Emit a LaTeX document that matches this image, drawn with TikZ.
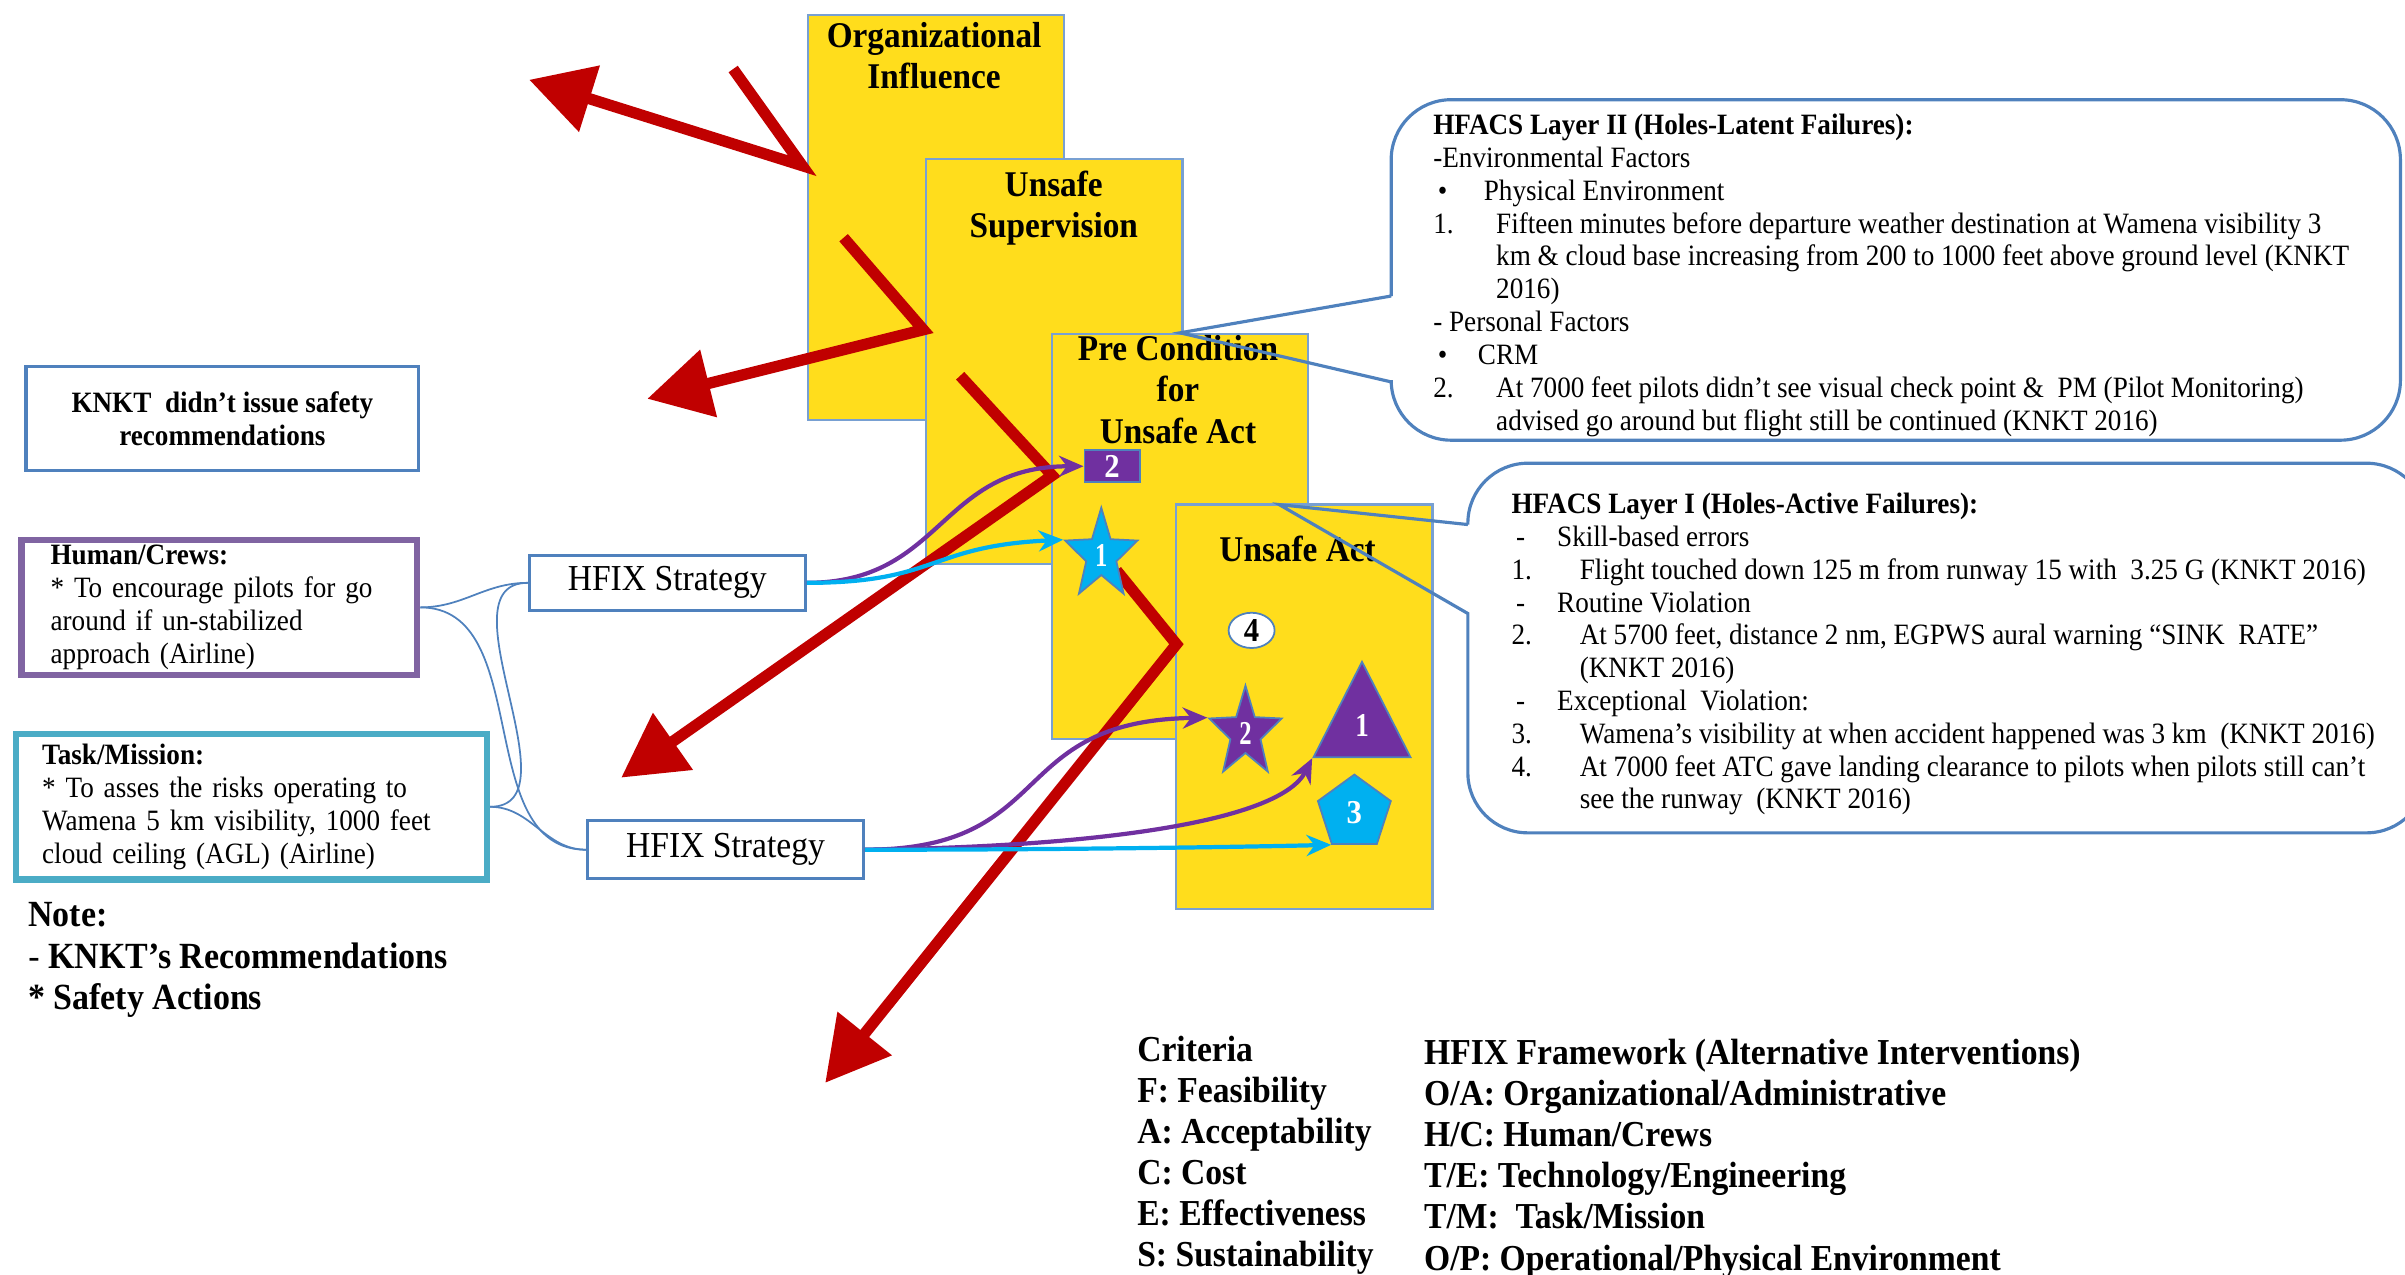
\documentclass[tikz,border=0pt]{standalone}
\usepackage{fontspec}
\setmainfont{Liberation Serif}[FakeStretch=0.92]
\usetikzlibrary{arrows.meta,shapes.geometric}
\definecolor{cheese}{RGB}{255,221,28}
\definecolor{cheeseedge}{RGB}{120,160,210}
\definecolor{trail}{RGB}{192,0,0}
\definecolor{hfpurple}{RGB}{112,48,160}
\definecolor{hfcyan}{RGB}{0,176,240}
\definecolor{boxblue}{RGB}{79,129,189}
\definecolor{crewpurple}{RGB}{128,100,162}
\definecolor{taskteal}{RGB}{75,172,198}
\newlength{\pix}
\setlength{\pix}{0.1534mm}

\begin{document}
\begin{tikzpicture}[x=\pix,y=-\pix]
\tikzstyle{every node}+=[inner sep=0pt]
\tikzstyle{layer}=[draw=cheeseedge,fill=cheese,line width=0.7pt,minimum width=167\pix,minimum height=264\pix,anchor=north west]
\tikzstyle{title}=[anchor=north,align=center,font=\fontsize{10.3}{11.8}\selectfont\bfseries]
\tikzstyle{trail}=[draw=trail,line width=3.2pt,line join=miter,-{Triangle[length=18pt,width=19pt]}]
\tikzstyle{hole}=[draw=boxblue,line width=0.5pt,text=white,font=\fontsize{9.5}{9.5}\selectfont\bfseries]
\tikzstyle{starhole}=[hole,star,star points=5,star point ratio=2.4,minimum size=62\pix,transform shape]
\tikzstyle{hfix}=[draw=boxblue,line width=0.8pt,fill=white,minimum width=180\pix,minimum height=36\pix,font=\fontsize{10.4}{12}\selectfont]
\tikzstyle{fixp}=[draw=hfpurple,line width=1.2pt,-{Stealth[length=7pt,width=6pt]}]
\tikzstyle{fixc}=[draw=hfcyan,line width=1.2pt,-{Stealth[length=7pt,width=6pt]}]
\tikzstyle{link}=[draw=boxblue,line width=0.5pt]
\tikzstyle{callout}=[draw=boxblue,line width=0.9pt]
\tikzstyle{small}=[align=left,font=\fontsize{8.4}{9.34}\selectfont]
\tikzstyle{key}=[anchor=north west,align=left,font=\fontsize{10.4}{11.7}\selectfont\bfseries]
\useasboundingbox (0,0) rectangle (1568,831);

\node[layer] (oi) at (526,9) {};
\node[title] (oit) at (609,14) {Organizational\\Influence};
\node[layer] (us) at (603,103) {};
\node[title] (ust) at (687,111) {Unsafe\\Supervision};
\node[layer] (pc) at (685,217) {};
\node[title] (pct) at (768,218) {Pre Condition\\for\\Unsafe Act};
\node[layer] (ua) at (766,328) {};
\node[title] (uat) at (846,349) {Unsafe Act};

\coordinate (a0) at (478,45); \coordinate (a1) at (523,108); \coordinate (a2) at (345,52);
\coordinate (b0) at (550,155); \coordinate (b1) at (602,215); \coordinate (b2) at (422,260);
\coordinate (c0) at (626,245); \coordinate (c1) at (686,310); \coordinate (c2) at (405,507);
\coordinate (d0) at (728,372); \coordinate (d1) at (767,420); \coordinate (d2) at (538,706);
\draw[trail] (a0) -- (a1) -- (a2);
\draw[trail] (b0) -- (b1) -- (b2);
\draw[trail] (c0) -- (c1) -- (c2);
\draw[trail] (d0) -- (d1) -- (d2);

\node[hole,fill=hfpurple,minimum width=36\pix,minimum height=21\pix] (sq2) at (725,304) {2};
\begin{scope}[shift={(718,362)},xscale=0.8]
\node[starhole,fill=hfcyan] (st1) at (0,0) {1};
\end{scope}
\node[hole,fill=white,text=black,ellipse,minimum width=30\pix,minimum height=23\pix] (el4) at (816,411) {4};
\begin{scope}[shift={(812,478)},xscale=0.8]
\node[starhole,fill=hfpurple] (st2) at (0,0) {2};
\end{scope}
\begin{scope}[shift={(888,473)},xscale=0.88]
\node[hole,fill=hfpurple,regular polygon,regular polygon sides=3,minimum size=83\pix,transform shape] (tr1) at (0,0) {1};
\end{scope}
\node[hole,fill=hfcyan,regular polygon,regular polygon sides=5,minimum size=50\pix] (pg3) at (883,530) {3};

\node[hfix] (hs1) at (435,380) {HFIX Strategy};
\node[hfix,minimum height=38\pix] (hs2) at (473,554) {HFIX Strategy};
\draw[fixp] (hs1.east) .. controls (615,380) and (612,304) .. (sq2.west);
\draw[fixc] (hs1.east) .. controls (612,380) and (605,356) .. (st1.outer point 2);
\draw[fixp] (hs2.east) .. controls (690,554) and (655,470) .. (st2.outer point 2);
\draw[fixp] (hs2.east) .. controls (720,552) and (835,535) .. (tr1.corner 2);
\draw[fixc] (hs2.east) .. controls (700,554) and (820,552) .. (pg3.corner 3);

\node[draw=boxblue,line width=0.9pt,minimum width=256\pix,minimum height=68\pix,align=center,font=\fontsize{8.4}{9.6}\selectfont\bfseries] (knkt) at (145,273) {KNKT\ \ didn’t issue safety\\recommendations};
\node[small,draw=crewpurple,line width=1.8pt,text width=220\pix,inner xsep=19\pix,minimum height=88\pix] (hc) at (143,396) {\textbf{Human/Crews:}\\{}* To encourage pilots for go\\around if un-stabilized\\approach (Airline)};
\node[small,draw=taskteal,line width=1.8pt,text width=273\pix,inner xsep=17\pix,minimum height=95\pix] (tm) at (164,526) {\textbf{Task/Mission:}\\{}* To asses the risks operating to\\Wamena 5 km visibility, 1000 feet\\cloud ceiling (AGL) (Airline)};
\draw[link] (hc.east) to[out=0,in=180] (hs1.west);
\draw[link] (hc.east) to[out=0,in=180] (hs2.west);
\draw[link] (tm.east) to[out=0,in=180] (hs1.west);
\draw[link] (tm.east) to[out=0,in=180] (hs2.west);

\node[anchor=north west,align=left,font=\fontsize{10.5}{11.8}\selectfont] (note) at (18,588) {\textbf{Note:}\\- \textbf{KNKT’s Recommendations}\\{}\textbf{* Safety Actions}};

\coordinate (tip2) at (pc.north);
\draw[callout] (907,193) -- (tip2) -- (907,249) [rounded corners=6mm] -- (907,287) -- (1565,287) -- (1565,65) -- (907,65) -- (907,193);
\node[small,anchor=north west] (latent) at (934,74) {\textbf{HFACS Layer II (Holes-Latent Failures):}\\
-Environmental Factors\\
\makebox[14.4pt][l]{\hspace{1.3pt}•}Physical Environment\\
\makebox[17.9pt][l]{1.}Fifteen minutes before departure weather destination at Wamena visibility 3\\
\hspace*{17.9pt}km \& cloud base increasing from 200 to 1000 feet above ground level (KNKT\\
\hspace*{17.9pt}2016)\\
- Personal Factors\\
\makebox[12.7pt][l]{\hspace{1.3pt}•}CRM\\
\makebox[17.9pt][l]{2.}At 7000 feet pilots didn’t see visual check point \&\ \ PM (Pilot Monitoring)\\
\hspace*{17.9pt}advised go around but flight still be continued (KNKT 2016)};

\coordinate (tip1) at (834,329);
\draw[callout] (957,342) -- (tip1) -- (957,400) [rounded corners=6mm] -- (957,543) -- (1582,543) -- (1582,302) -- (957,302) -- (957,342);
\node[small,anchor=north west] (active) at (985,321) {\textbf{HFACS Layer I (Holes-Active Failures):}\\
\makebox[13pt][l]{\hspace{1.3pt}-}Skill-based errors\\
\makebox[17.5pt][l]{1.}\ Flight touched down 125 m from runway 15 with\ \ 3.25 G (KNKT 2016)\\
\makebox[13pt][l]{\hspace{1.3pt}-}Routine Violation\\
\makebox[17.5pt][l]{2.}\ At 5700 feet, distance 2 nm, EGPWS aural warning “SINK\ \ RATE”\\
\hspace*{17.5pt}\ (KNKT 2016)\\
\makebox[13pt][l]{\hspace{1.3pt}-}Exceptional\ \ Violation:\\
\makebox[17.5pt][l]{3.}\ Wamena’s visibility at when accident happened was 3 km\ \ (KNKT 2016)\\
\makebox[17.5pt][l]{4.}\ At 7000 feet ATC gave landing clearance to pilots when pilots still can’t\\
\hspace*{17.5pt}\ see the runway\ \ (KNKT 2016)};

\node[key] (crit) at (741,675) {Criteria\\F: Feasibility\\A: Acceptability\\C: Cost\\E: Effectiveness\\S: Sustainability};
\node[key] (frame) at (928,677) {HFIX Framework (Alternative Interventions)\\O/A: Organizational/Administrative\\H/C: Human/Crews\\T/E: Technology/Engineering\\T/M:\ \ Task/Mission\\O/P: Operational/Physical Environment};
\end{tikzpicture}
\end{document}
